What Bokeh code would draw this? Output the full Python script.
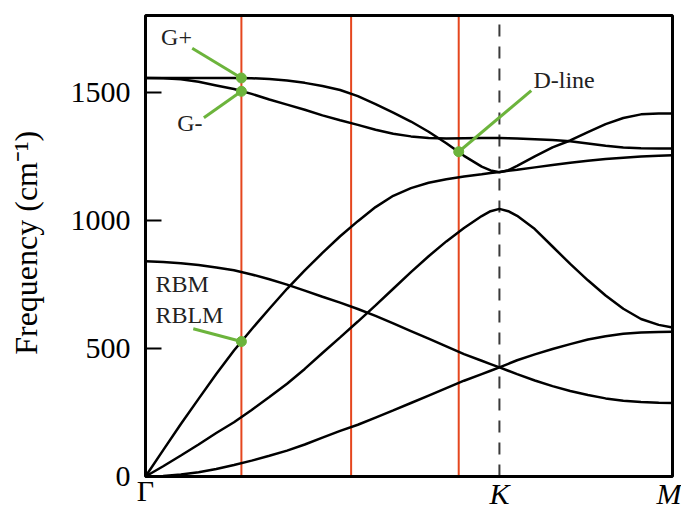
import math
from bokeh.plotting import figure
from bokeh.models import Range1d, FixedTicker, ColumnDataSource, LinearAxis
from bokeh.core.properties import value
from bokeh.embed import file_html
from bokeh.resources import INLINE

# Wave-vector path Gamma -> K -> M (K at 1, M at the end of the path)
G_POS = 0.0
K_POS = 1.0
M_POS = 1.489
K_PATH = [0, .05, .1, .15, .2, .25, .3, .35, .4, .45, .5, .55, .6, .65, .7, .75,
          .8, .85, .9, .95, .975, 1.0, 1.025, 1.05, 1.1, 1.15, 1.2, 1.25, 1.3,
          1.35, 1.4, 1.45, 1.489]

# Phonon branches, frequency in cm^-1 along K_PATH
ZA = [0, 2, 8, 17, 29, 45, 62, 81, 101, 125, 152, 178, 202, 230, 258, 287,
      316, 345, 374, 400, 413, 426, 440, 454, 477, 498, 517, 535, 548, 557,
      562, 564, 565]
TA = [0, 40, 82, 125, 170, 212, 260, 310, 362, 420, 482, 543, 605, 668, 733,
      798, 860, 918, 970, 1017, 1036, 1045, 1036, 1018, 966, 898, 830, 766,
      707, 655, 615, 592, 582]
LA = [0, 103, 205, 303, 400, 492, 575, 655, 733, 805, 873, 938, 997, 1052,
      1096, 1126, 1147, 1161, 1171, 1180, 1185, 1189, 1194, 1198, 1207, 1216,
      1225, 1233, 1240, 1245, 1249, 1252, 1254]
ZO = [840, 838, 833, 826, 816, 805, 789, 770, 749, 726, 702, 679, 654, 627,
      598, 568, 538, 508, 478, 452, 439, 426, 413, 400, 375, 353, 334, 318,
      305, 296, 291, 288, 287]
LO = [1556, 1555, 1551, 1541, 1527, 1513, 1494, 1472, 1452, 1432, 1410, 1391,
      1373, 1354, 1338, 1328, 1322, 1320, 1321, 1322, 1322, 1322, 1321, 1320,
      1317, 1314, 1309, 1300, 1291, 1285, 1282, 1281, 1281]
ITO = [1556, 1556, 1556, 1556, 1556, 1556, 1555, 1552, 1546, 1537, 1525, 1509,
       1485, 1454, 1421, 1386, 1346, 1301, 1252, 1210, 1195, 1188, 1196, 1213,
       1250, 1285, 1312, 1345, 1376, 1400, 1414, 1417, 1417]
BRANCHES = [ZA, TA, LA, ZO, LO, ITO]

# Laser-cut positions (red lines)
CUTS = [0.271, 0.581, 0.885]

# Marked modes: name, position on the path, frequency
MODE_NAMES = ["G+", "G-", "D-line", "RBLM"]
MODE_K = [0.271, 0.271, 0.885, 0.271]
MODE_FREQ = [1556, 1504, 1268, 527]

Y_TICKS = [0, 500, 1000, 1500]
Y_TOP = 1800
Y_TITLE = "Frequency (cm\u207b\u00b9)"

SERIF = "Liberation Serif"
GREEN = "#6cb43c"
RED = "#e5461e"

# The plotting frame covers the whole canvas; the box Gamma..M x 0..Y_TOP is
# drawn explicitly and both axes are pinned to its lower-left corner.
PX_X = 354.0          # pixels per unit of path
PX_Y = 461.0 / Y_TOP  # pixels per cm^-1
LEFT_PAD, RIGHT_PAD, TOP_PAD, BOTTOM_PAD = 145, 9, 15, 33

p = figure(width=681, height=509, output_backend="svg", toolbar_location=None,
           x_range=Range1d(G_POS - LEFT_PAD / PX_X, M_POS + RIGHT_PAD / PX_X),
           y_range=Range1d(-BOTTOM_PAD / PX_Y, Y_TOP + TOP_PAD / PX_Y),
           x_axis_location=None,
           min_border_left=0, min_border_right=0,
           min_border_top=0, min_border_bottom=0)
p.background_fill_color = "white"
p.border_fill_color = "white"
p.grid.visible = False
p.outline_line_color = None

ax = p.yaxis[0]
ax.fixed_location = G_POS
ax.ticker = FixedTicker(ticks=Y_TICKS)
ax.axis_line_color = None
ax.major_tick_in = 16
ax.major_tick_out = 0
ax.major_tick_line_width = 2
ax.major_tick_line_color = "black"
ax.minor_tick_line_color = None
ax.major_label_text_font = SERIF
ax.major_label_text_font_size = "30px"
ax.major_label_text_color = "black"
ax.major_label_standoff = 15


def path_axis(ticks, names, style, standoff):
    a = LinearAxis(ticker=FixedTicker(ticks=ticks),
                   major_label_overrides=dict(zip(ticks, names)),
                   fixed_location=0)
    a.axis_line_color = None
    a.major_tick_line_color = None
    a.minor_tick_line_color = None
    a.major_tick_in = 0
    a.major_tick_out = 0
    a.major_label_standoff = standoff
    a.major_label_text_font = SERIF
    a.major_label_text_font_size = "30px"
    a.major_label_text_font_style = style
    a.major_label_text_color = "black"
    return a


# symmetry-point labels under the box: Gamma upright, K and M italic
p.add_layout(path_axis([G_POS], ["\u0393"], "normal", -3), "below")
p.add_layout(path_axis([K_POS, M_POS], ["K", "M"], "italic", 0), "below")

# vertical cut lines and the dashed K line
p.segment(x0=CUTS, y0=[0] * len(CUTS), x1=CUTS, y1=[Y_TOP] * len(CUTS),
          line_color=RED, line_width=2)
p.segment(x0=[K_POS], y0=[0], x1=[K_POS], y1=[Y_TOP], line_color="#3a3a3a",
          line_width=2, line_dash="12 10")

for br in BRANCHES:
    p.line(K_PATH, br, line_color="black", line_width=2.5)

# box around the dispersion
p.quad(left=[G_POS], right=[M_POS], bottom=[0], top=[Y_TOP],
       fill_color=None, line_color="black", line_width=3)

# y-axis title, centred on the box height
p.text(x=[G_POS - 119 / PX_X], y=[Y_TOP * 0.507], text=[Y_TITLE],
       angle=math.pi / 2, text_font=value(SERIF), text_font_size="32px",
       text_color="black", text_align="center", text_baseline="middle")

# leader lines from the labels to the marked modes
LEAD_X0 = [0.132, 0.165, 1.090, 0.135]
LEAD_Y0 = [1672, 1401, 1507, 577]
p.segment(x0=LEAD_X0, y0=LEAD_Y0, x1=MODE_K, y1=MODE_FREQ,
          line_color=GREEN, line_width=3)
p.scatter(MODE_K, MODE_FREQ, size=10, fill_color=GREEN, line_color=GREEN)

lab = ColumnDataSource(dict(
    x=[0.044, 0.0895, 1.096, 0.028, 0.028],
    y=[1718, 1379, 1550, 750, 632],
    t=["G+", "G-", "D-line", "RBM", "RBLM"],
))
p.text(x="x", y="y", text="t", source=lab, text_font=value(SERIF),
       text_font_size="24px", text_color="#222222",
       text_baseline="alphabetic", text_align="left")

open("out.html", "w").write(file_html(p, INLINE))
